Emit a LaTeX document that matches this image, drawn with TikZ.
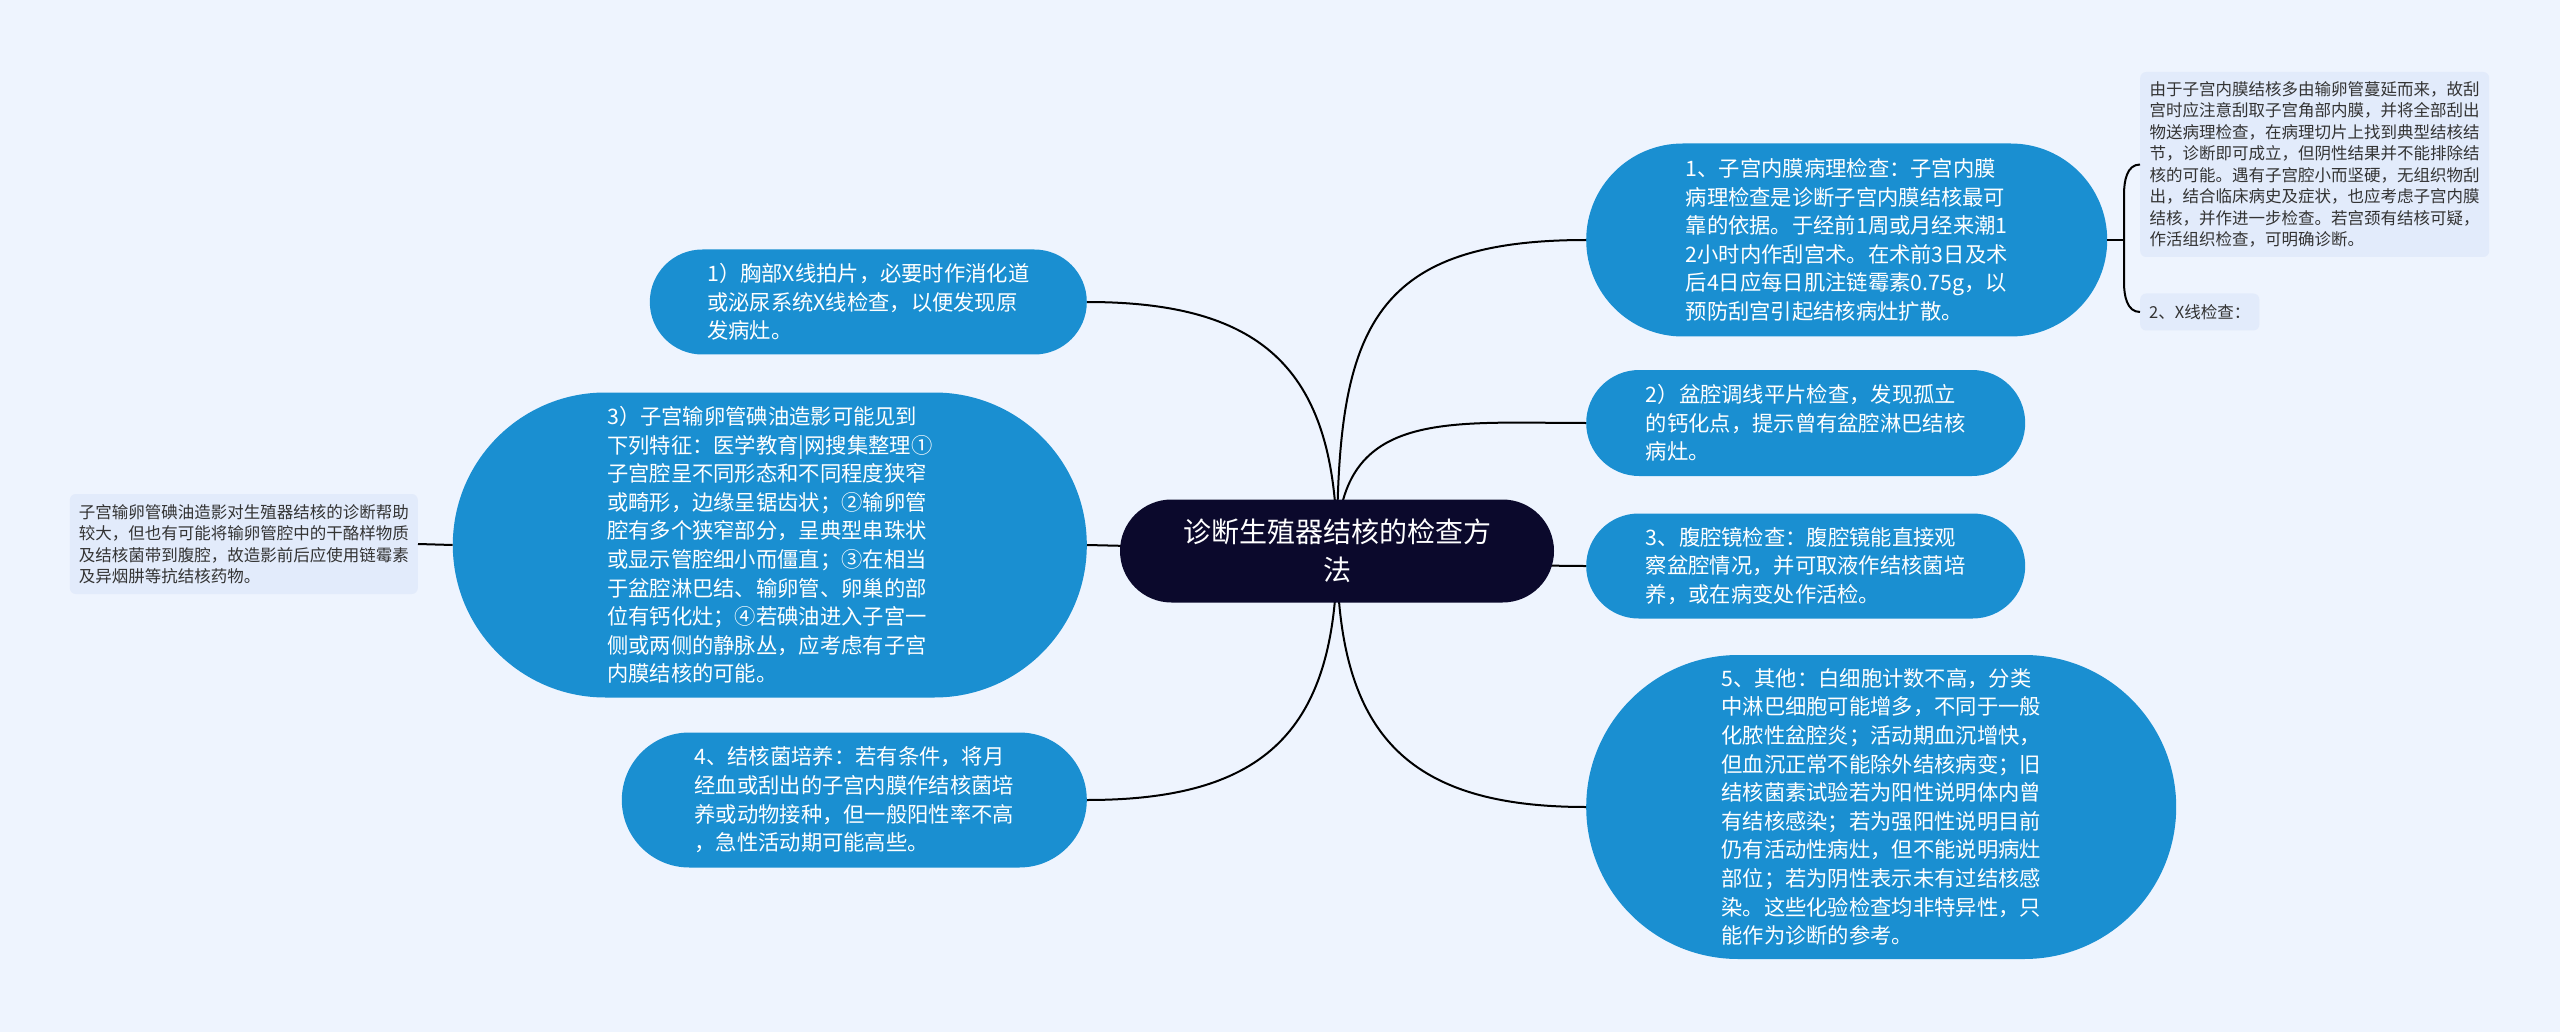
\documentclass[tikz,border=0pt]{standalone}
\usepackage{fontspec}
\newfontfamily\cjk{Noto Sans CJK SC}
\usetikzlibrary{shapes,positioning}

\definecolor{bgcol}{RGB}{238,244,254}
\definecolor{leafblue}{RGB}{26,143,209}
\definecolor{rootnavy}{RGB}{11,9,44}
\definecolor{memofill}{RGB}{226,235,251}
\definecolor{memotext}{RGB}{51,51,51}

\begin{document}
\begin{tikzpicture}[
    x=1pt, y=-1pt,
    topic/.style={rounded rectangle, fill=rootnavy, text=white, align=center, inner sep=0pt, font=\cjk\fontsize{28}{38}\selectfont},
    leaf/.style={rounded rectangle, fill=leafblue, text=white, align=left, inner sep=0pt, font=\cjk\fontsize{21.3}{28.6}\selectfont},
    memo/.style={rectangle, rounded corners=6pt, fill=memofill, text=memotext, align=left, inner xsep=9pt, inner ysep=5pt, font=\cjk\fontsize{16.5}{21.5}\selectfont},
    conn/.style={line width=2pt, draw=black, looseness=1.3}
]

% Canvas
\useasboundingbox (0,0) rectangle (2560,1032);
\fill[bgcol] (0,0) rectangle (2560,1032);
\coordinate (hub) at (1337,551);

% Right branches
\node[leaf, anchor=west, minimum width=521pt, minimum height=193pt] (endo) at (1586,240) {1、子宫内膜病理检查：子宫内膜\\病理检查是诊断子宫内膜结核最可\\靠的依据。于经前1周或月经来潮1\\2小时内作刮宫术。在术前3日及术\\后4日应每日肌注链霉素0.75g，以\\预防刮宫引起结核病灶扩散。};
\node[leaf, anchor=west, minimum width=439pt, minimum height=106pt] (pelvis) at (1586,423) {2）盆腔调线平片检查，发现孤立\\的钙化点，提示曾有盆腔淋巴结核\\病灶。};
\node[leaf, anchor=west, minimum width=439pt, minimum height=105pt] (scope) at (1586,566) {3、腹腔镜检查：腹腔镜能直接观\\察盆腔情况，并可取液作结核菌培\\养，或在病变处作活检。};
\node[leaf, anchor=west, minimum width=590pt, minimum height=304pt] (other) at (1586,807) {5、其他：白细胞计数不高，分类\\中淋巴细胞可能增多，不同于一般\\化脓性盆腔炎；活动期血沉增快，\\但血沉正常不能除外结核病变；旧\\结核菌素试验若为阳性说明体内曾\\有结核感染；若为强阳性说明目前\\仍有活动性病灶，但不能说明病灶\\部位；若为阴性表示未有过结核感\\染。这些化验检查均非特异性，只\\能作为诊断的参考。};

% Left branches
\node[leaf, anchor=east, minimum width=437pt, minimum height=105pt] (chest) at (1087,302) {1）胸部X线拍片，必要时作消化道\\或泌尿系统X线检查，以便发现原\\发病灶。};
\node[leaf, anchor=east, minimum width=634pt, minimum height=305pt] (hsg) at (1087,545) {3）子宫输卵管碘油造影可能见到\\下列特征：医学教育|网搜集整理①\\子宫腔呈不同形态和不同程度狭窄\\或畸形，边缘呈锯齿状；②输卵管\\腔有多个狭窄部分，呈典型串珠状\\或显示管腔细小而僵直；③在相当\\于盆腔淋巴结、输卵管、卵巢的部\\位有钙化灶；④若碘油进入子宫一\\侧或两侧的静脉丛，应考虑有子宫\\内膜结核的可能。};
\node[leaf, anchor=east, minimum width=465pt, minimum height=135pt] (culture) at (1087,800) {4、结核菌培养：若有条件，将月\\经血或刮出的子宫内膜作结核菌培\\养或动物接种，但一般阳性率不高\\，急性活动期可能高些。};

% Notes
\node[memo, anchor=west, minimum width=349pt, minimum height=185pt] (endonote) at (2140,164.5) {由于子宫内膜结核多由输卵管蔓延而来，故刮\\宫时应注意刮取子宫角部内膜，并将全部刮出\\物送病理检查，在病理切片上找到典型结核结\\节，诊断即可成立，但阴性结果并不能排除结\\核的可能。遇有子宫腔小而坚硬，无组织物刮\\出，结合临床病史及症状，也应考虑子宫内膜\\结核，并作进一步检查。若宫颈有结核可疑，\\作活组织检查，可明确诊断。};
\node[memo, anchor=west, minimum height=37pt] (xray) at (2140,312) {2、X线检查：};
\node[memo, anchor=east, minimum width=346pt, minimum height=100pt] (hsgnote) at (418,544) {子宫输卵管碘油造影对生殖器结核的诊断帮助\\较大，但也有可能将输卵管腔中的干酪样物质\\及结核菌带到腹腔，故造影前后应使用链霉素\\及异烟肼等抗结核药物。};

% Links
\draw[conn] (hub) to[out=90,in=180,looseness=1.4] (endo.west);
\draw[conn] (hub) to[out=90,in=180] (pelvis.west);
\draw[conn] (hub) to[out=0,in=180] (scope.west);
\draw[conn] (hub) to[out=-90,in=180] (other.west);
\draw[conn] (hub) to[out=90,in=0] (chest.east);
\draw[conn] (hub) -- (hsg.east);
\draw[conn] (hub) to[out=-90,in=0] (culture.east);
\draw[conn] (hsgnote.east) -- (hsg.west);

% Bracket
\draw[conn] (endo.east) -- ++(16,0);
\draw[conn] (endonote.west) to[out=180,in=90,looseness=1] ++(-16,30) -- ++(0,88) to[out=-90,in=180,looseness=1] (xray.west);

% Root
\node[topic, minimum width=434pt, minimum height=103pt] (root) at (hub) {诊断生殖器结核的检查方\\法};

\end{tikzpicture}
\end{document}
